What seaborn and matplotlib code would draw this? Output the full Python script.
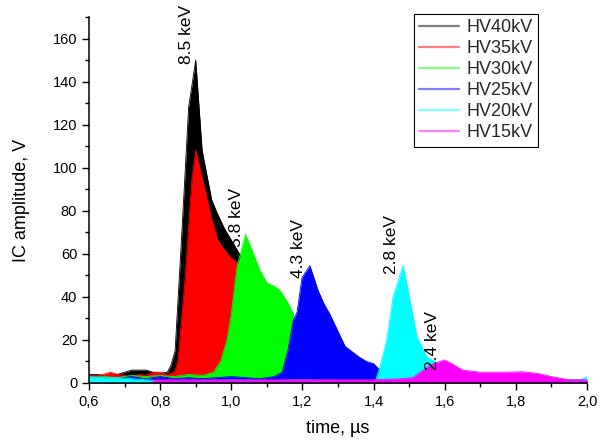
import matplotlib
matplotlib.use("Agg")
import matplotlib.pyplot as plt
from matplotlib.lines import Line2D
from matplotlib.ticker import MultipleLocator, FuncFormatter
import seaborn as sns
import pandas as pd

# ---- data ----
series_names = ["HV40kV", "HV35kV", "HV30kV", "HV25kV", "HV20kV", "HV15kV"]
series_colors = ["#000000", "#FF0000", "#00FF00", "#0000FF", "#00FFFF", "#FF00FF"]

t_hv40 = [0.60, 0.62, 0.64, 0.66, 0.68, 0.70, 0.72, 0.74, 0.76, 0.78, 0.80, 0.82, 0.83, 0.842,
          0.856, 0.87, 0.88, 0.90, 0.918, 0.945, 0.96, 0.98, 1.005, 1.03, 1.06, 1.08, 1.10,
          1.15, 1.20, 1.30, 1.40, 1.60, 1.80, 2.00]
a_hv40 = [4, 4, 3.5, 4, 4, 5, 6, 6, 6, 5, 4.5, 5, 8, 15,
          55, 97, 128, 150, 108, 85, 79, 72, 65, 58, 45, 35, 25,
          12, 5, 2, 1.5, 1, 1, 1]

t_hv35 = [0.60, 0.62, 0.64, 0.66, 0.68, 0.70, 0.72, 0.74, 0.76, 0.78, 0.80, 0.82, 0.84, 0.85,
          0.87, 0.889, 0.90, 0.93, 0.945, 0.963, 0.98, 1.00, 1.016, 1.04, 1.06, 1.08, 1.10,
          1.15, 1.20, 1.30, 1.60, 2.00]
a_hv35 = [3.5, 3.5, 4, 5, 4, 3.5, 3, 4, 3.5, 5, 5, 4, 5, 10,
          48, 94, 108, 87, 76, 66, 62, 58, 56, 48, 38, 28, 18,
          8, 3, 2, 1.5, 1]

t_hv30 = [0.60, 0.64, 0.68, 0.72, 0.76, 0.80, 0.84, 0.88, 0.92, 0.95, 0.97, 0.988, 1.00, 1.016,
          1.04, 1.06, 1.08, 1.10, 1.12, 1.137, 1.16, 1.174, 1.19, 1.20, 1.22, 1.26, 1.30,
          1.40, 1.60, 2.00]
a_hv30 = [2.5, 3, 2.5, 3.5, 3, 3.5, 3, 4, 3.5, 5, 10, 20, 32, 54,
          69, 61, 52.5, 46.5, 45, 43, 37, 32.5, 20, 12, 4, 2.5, 2,
          2, 1.5, 1.5]

t_hv25 = [0.60, 0.64, 0.68, 0.72, 0.76, 0.80, 0.84, 0.88, 0.92, 0.96, 1.00, 1.04, 1.08, 1.12,
          1.143, 1.16, 1.174, 1.185, 1.199, 1.221, 1.244, 1.26, 1.277, 1.30, 1.32, 1.34, 1.36,
          1.38, 1.40, 1.418, 1.44, 1.46, 1.50, 2.00]
a_hv25 = [2, 2.5, 2, 3, 2, 3, 2, 2.5, 2, 2.5, 3, 2.5, 2, 3,
          5, 16, 29, 33, 49, 54.5, 43, 37, 32, 24, 17, 14.5, 12,
          10, 9, 6, 3, 1.5, 1.5, 1]

t_hv20 = [0.60, 0.64, 0.68, 0.72, 0.76, 0.80, 0.90, 1.00, 1.10, 1.20, 1.30, 1.38, 1.404, 1.418,
          1.437, 1.455, 1.483, 1.497, 1.522, 1.55, 1.573, 1.59, 1.61, 1.64, 1.70, 1.90, 1.98,
          2.00]
a_hv20 = [3, 2.5, 2.5, 2, 1.5, 1, 1, 1.5, 1, 1.5, 1, 1, 0.5, 7.5,
          20, 40, 54.5, 43, 21.5, 12, 10, 6, 3, 2, 1.5, 1.5, 1.5,
          3]

t_hv15 = [0.78, 0.90, 1.00, 1.20, 1.40, 1.48, 1.51, 1.54, 1.567, 1.60, 1.62, 1.65, 1.70, 1.75,
          1.82, 1.86, 1.905, 1.95, 2.00]
a_hv15 = [1.5, 1.5, 1.5, 1.5, 1.5, 2, 2.5, 6, 9, 10.7, 9, 6, 5, 5,
          5.2, 4.5, 2.8, 1.5, 1.5]

series_t = [t_hv40, t_hv35, t_hv30, t_hv25, t_hv20, t_hv15]
series_a = [a_hv40, a_hv35, a_hv30, a_hv25, a_hv20, a_hv15]

peak_labels = ["8.5 keV", "5.8 keV", "4.3 keV", "2.8 keV", "2.4 keV"]
peak_label_x = [0.875, 1.016, 1.190, 1.449, 1.567]
peak_label_y = [148, 63, 49, 50.7, 6]

x_ticks = [0.6, 0.8, 1.0, 1.2, 1.4, 1.6, 1.8, 2.0]
y_ticks = [0, 20, 40, 60, 80, 100, 120, 140, 160]

# ---- plot ----
sns.set_style("ticks")
plt.rcParams["font.family"] = ["Liberation Sans", "DejaVu Sans"]

fig = plt.figure(figsize=(6.03, 4.42), dpi=100)
ax = fig.add_axes([89 / 603, 1 - 383 / 442, (587 - 89) / 603, (383 - 17) / 442])

for i, (name, col, t, a) in enumerate(zip(series_names, series_colors, series_t, series_a)):
    df = pd.DataFrame({"time": t, "amp": a})
    ax.fill_between(df["time"], 0, df["amp"], color=col, lw=0, zorder=2 + i)
    sns.lineplot(data=df, x="time", y="amp", ax=ax, color=col, lw=0.6, zorder=2 + i,
                 legend=False)

for lab, lx, ly in zip(peak_labels, peak_label_x, peak_label_y):
    ax.text(lx, ly, lab, rotation=90, ha="center", va="bottom", fontsize=12.5,
            color="black", zorder=20)

ax.set_xlim(0.6, 2.0)
ax.set_ylim(0, 170)
ax.set_xticks(x_ticks)
ax.set_yticks(y_ticks)
ax.xaxis.set_minor_locator(MultipleLocator(0.1))
ax.yaxis.set_minor_locator(MultipleLocator(10))
ax.xaxis.set_major_formatter(FuncFormatter(lambda v, p: f"{v:.1f}".replace(".", ",")))
ax.tick_params(axis="both", which="major", direction="out", length=5, width=1,
               labelsize=10.5, color="black", labelcolor="black")
ax.tick_params(axis="both", which="minor", direction="out", length=3, width=1, color="black")
for s in ["top", "right"]:
    ax.spines[s].set_visible(False)
for s in ["left", "bottom"]:
    ax.spines[s].set_color("black")
    ax.spines[s].set_linewidth(1.1)
    ax.spines[s].set_zorder(30)

ax.set_xlabel("time, µs", fontsize=13, color="black", labelpad=8)
ax.set_ylabel("IC amplitude, V", fontsize=13, color="black", labelpad=16)

handles = [Line2D([0], [0], color=c, lw=1.6, alpha=0.5) for c in series_colors]
leg = fig.legend(handles, series_names, loc="upper right",
                 bbox_to_anchor=(538 / 603, 1 - 14 / 442), bbox_transform=fig.transFigure,
                 fontsize=13, frameon=True, fancybox=False, borderaxespad=0,
                 handlelength=2.2, handletextpad=0.4, labelspacing=0.22,
                 borderpad=0.3)
leg.get_frame().set_edgecolor("black")
leg.get_frame().set_linewidth(0.8)
leg.get_frame().set_alpha(1)

fig.savefig("out.png", dpi=100)
